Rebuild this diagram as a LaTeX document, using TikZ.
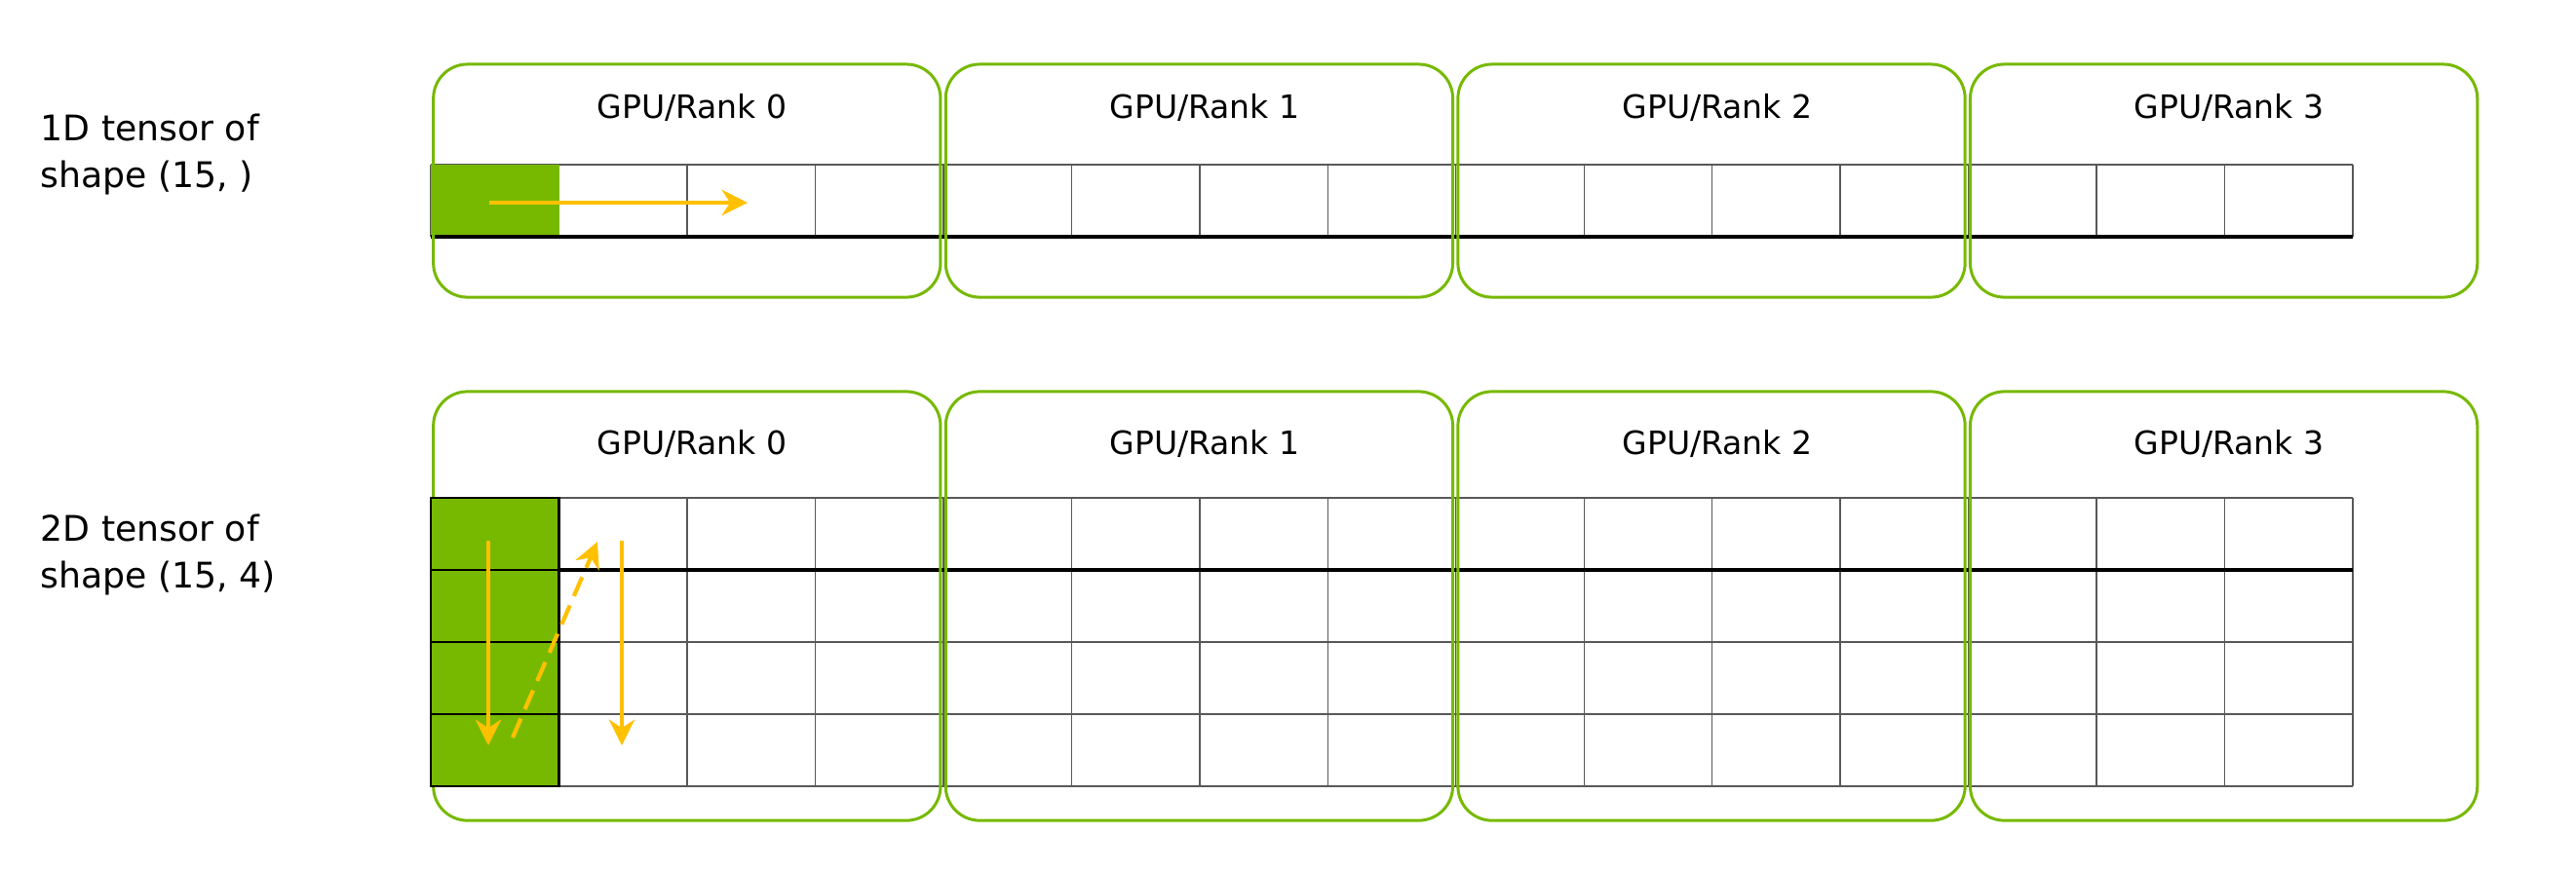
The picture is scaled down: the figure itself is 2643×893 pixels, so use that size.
\documentclass[tikz,border=0pt]{standalone}
\usepackage{fontspec}
\setmainfont{DejaVu Sans}
\usetikzlibrary{arrows.meta}
\definecolor{nvgreen}{HTML}{76B900}
\definecolor{flowyellow}{HTML}{FFC000}
\begin{document}
\begin{tikzpicture}[
        x=0.01cm, y=-0.01cm,
        gpubox/.style={
            draw=nvgreen, line width=0.85pt, rounded corners=0.35cm,
            minimum width=5.2cm, inner sep=0pt
        },
        ranklabel/.style={
            font=\fontsize{9.4}{11}\selectfont, inner sep=0pt
        },
        tensorlabel/.style={
            font=\fontsize{10.3}{13.6}\selectfont, align=left,
            anchor=base west, inner sep=0pt
        },
        cellline/.style={
            draw=black!65, line width=0.4pt
        },
        splitline/.style={
            draw=black, line width=0.9pt
        },
        flow/.style={
            draw=flowyellow, line width=1.2pt,
            -{Stealth[length=7.5pt, width=7.5pt, inset=2.4pt]}
        }
    ]
    \useasboundingbox (0,0) rectangle (2643,893);

    % 1D tensor
    \node[tensorlabel] (lbl1d) at (41,192) {1D tensor of\\shape (15, )};
    \foreach \i in {0,...,15}
        \draw[cellline] ({442+131.47*\i},169) -- ({442+131.47*\i},243);
    \draw[cellline] (442,169) -- (2414,169);
    \fill[nvgreen] (442,169) rectangle (573.5,243);
    \draw[splitline] (442,243) -- (2414,243);

    \node[gpubox, minimum height=2.39cm] (top0) at (704.8,185.5) {};
    \node[gpubox, minimum height=2.39cm] (top1) at (1230.4,185.5) {};
    \node[gpubox, minimum height=2.39cm] (top2) at (1756.0,185.5) {};
    \node[gpubox, minimum height=2.39cm] (top3) at (2281.6,185.5) {};
    \node[ranklabel] (rank0a) at (710,110) {GPU/Rank 0};
    \node[ranklabel] (rank1a) at (1236,110) {GPU/Rank 1};
    \node[ranklabel] (rank2a) at (1762,110) {GPU/Rank 2};
    \node[ranklabel] (rank3a) at (2287,110) {GPU/Rank 3};

    \coordinate (rowstart) at (502,208);
    \coordinate (rowend) at (767,208);
    \draw[flow] (rowstart) -- (rowend);

    % 2D tensor
    \node[tensorlabel] (lbl2d) at (41,603) {2D tensor of\\shape (15, 4)};
    \foreach \i in {0,...,15}
        \draw[cellline] ({442+131.47*\i},511) -- ({442+131.47*\i},807);
    \foreach \y in {511,659,733,807}
        \draw[cellline] (442,\y) -- (2414,\y);
    \draw[splitline] (442,585) -- (2414,585);

    \node[gpubox, minimum height=4.4cm] (bot0) at (704.8,622) {};
    \node[gpubox, minimum height=4.4cm] (bot1) at (1230.4,622) {};
    \node[gpubox, minimum height=4.4cm] (bot2) at (1756.0,622) {};
    \node[gpubox, minimum height=4.4cm] (bot3) at (2281.6,622) {};
    \node[ranklabel] (rank0b) at (710,455) {GPU/Rank 0};
    \node[ranklabel] (rank1b) at (1236,455) {GPU/Rank 1};
    \node[ranklabel] (rank2b) at (1762,455) {GPU/Rank 2};
    \node[ranklabel] (rank3b) at (2287,455) {GPU/Rank 3};

    \foreach \y in {511,585,659,733}
        \draw[fill=nvgreen, draw=black, line width=0.6pt] (442,\y) rectangle (573.5,\y+74);

    \coordinate (colstart) at (501,555);
    \coordinate (colend) at (501,765);
    \coordinate (jumpstart) at (526,757);
    \coordinate (jumpend) at (613,556);
    \coordinate (nextstart) at (638,555);
    \coordinate (nextend) at (638,765);
    \draw[flow] (colstart) -- (colend);
    \draw[flow, dash pattern=on 6pt off 3pt] (jumpstart) -- (jumpend);
    \draw[flow] (nextstart) -- (nextend);
\end{tikzpicture}
\end{document}
